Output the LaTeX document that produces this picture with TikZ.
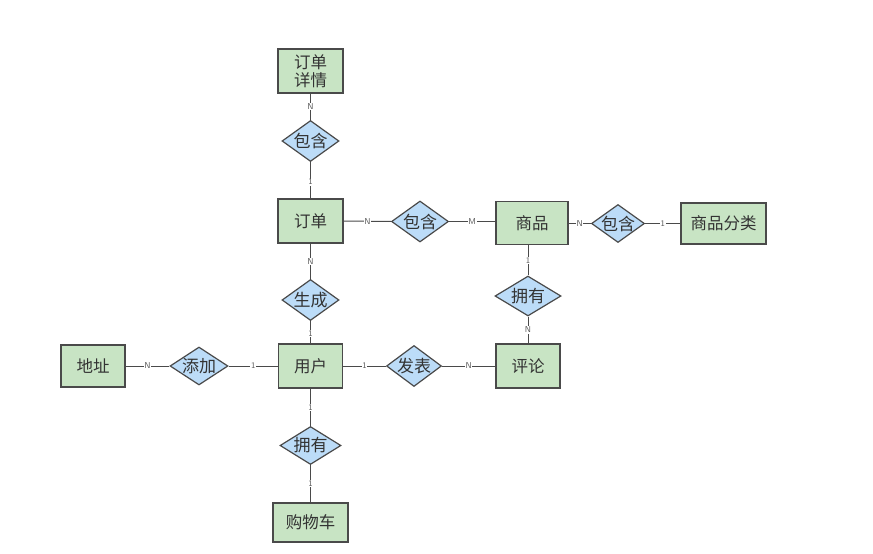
\documentclass[tikz,border=0pt]{standalone}
\usepackage{fontspec}
\newfontfamily\cjk{Noto Sans CJK SC}
\usetikzlibrary{shapes.geometric}
\definecolor{entfill}{HTML}{C8E4C4}
\definecolor{relfill}{HTML}{BCDCF8}
\definecolor{edgec}{HTML}{4A4A4A}
\definecolor{txtc}{HTML}{333333}
\tikzset{
  ent/.style={draw=edgec, line width=1.2pt, fill=entfill, minimum width=65pt, minimum height=44pt, inner sep=1pt, align=center, text=txtc, font=\cjk\fontsize{16.5}{19}\selectfont},
  rel/.style={diamond, draw=edgec, line width=1.2pt, fill=relfill, minimum width=57pt, minimum height=41pt, inner sep=-5pt, shape aspect=1.4, text=txtc, font=\cjk\fontsize{17}{19}\selectfont},
  conn/.style={draw=edgec, line width=1pt},
  card/.style={fill=white, inner sep=0.6pt, text=black!65, font=\fontsize{8.5}{8.5}\selectfont\sffamily}
}
\begin{document}
\begin{tikzpicture}[x=1pt,y=-1pt]
\useasboundingbox (0,0) rectangle (873,554);
% entities
\node[ent] (xq) at (310.5,71) {订单\\[-1pt]详情};
\node[ent] (dd) at (310.5,221) {订单};
\node[ent, minimum width=72pt, minimum height=43pt] (sp) at (532,223) {商品};
\node[ent, minimum width=85pt, minimum height=41pt] (fl) at (723.5,223.5) {商品分类};
\node[ent, minimum width=64pt] (yh) at (310.5,366) {用户};
\node[ent, minimum width=64pt, minimum height=42pt] (dz) at (93,366) {地址};
\node[ent, minimum width=64pt] (pl) at (528,366) {评论};
\node[ent, minimum width=75pt, minimum height=39pt] (gwc) at (310.5,522.5) {购物车};
% relations
\node[rel] (bh1) at (310.5,141) {包含};
\node[rel] (bh2) at (420,221.5) {包含};
\node[rel, minimum width=53pt, minimum height=38pt] (bh3) at (618,223.5) {包含};
\node[rel] (sc) at (310.5,300) {生成};
\node[rel, minimum width=58pt, minimum height=38pt] (tj) at (199,366) {添加};
\node[rel, minimum width=55pt] (fb) at (414,366) {发表};
\node[rel, minimum width=66pt, minimum height=40pt] (yy1) at (528,296) {拥有};
\node[rel, minimum width=61pt, minimum height=38pt] (yy2) at (310.5,445.5) {拥有};
% connectors
\draw[conn] (xq) -- node[card]{N} (bh1);
\draw[conn] (bh1) -- node[card, pos=0.55]{1} (dd);
\draw[conn] (dd) -- node[card]{N} (bh2);
\draw[conn] (bh2) -- node[card]{M} (sp.west |- bh2);
\draw[conn] (sp.east |- bh3) -- node[card]{N} (bh3);
\draw[conn] (bh3) -- node[card]{1} (fl.west |- bh3);
\draw[conn] (dd) -- node[card]{N} (sc);
\draw[conn] (sc) -- node[card, pos=0.55]{1} (yh);
\draw[conn] (sp.south -| yy1) -- node[card]{1} (yy1);
\draw[conn] (yy1) -- node[card]{N} (pl);
\draw[conn] (dz) -- node[card]{N} (tj);
\draw[conn] (tj) -- node[card]{1} (yh);
\draw[conn] (yh) -- node[card]{1} (fb);
\draw[conn] (fb) -- node[card]{N} (pl);
\draw[conn] (yh) -- node[card]{1} (yy2);
\draw[conn] (yy2) -- node[card]{1} (gwc);
\end{tikzpicture}
\end{document}
